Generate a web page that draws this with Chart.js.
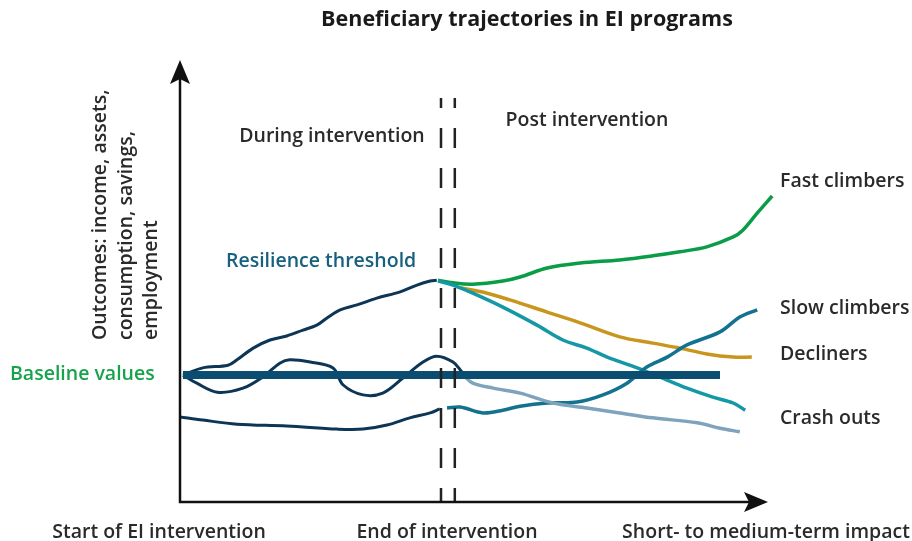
<!DOCTYPE html>
<html>
<head>
<meta charset="utf-8">
<script src="https://cdn.jsdelivr.net/npm/chart.js@4"></script>
<style>
  html, body { margin: 0; padding: 0; background: #fff; }
  #wrap { width: 912px; height: 541px; }
</style>
</head>
<body>
<div id="wrap"><canvas id="trajChart" width="912" height="541"></canvas></div>
<script>
// time runs 0..100 along x, outcome level 0..100 along y
var riseX = [0.5, 3.8, 8.0, 9.5, 12.2, 15.0, 17.8, 20.5, 22.8, 24.5, 26.7, 29.5, 32.8, 36.7, 39.5, 41.7, 42.8];
var riseY = [28.2, 29.8, 30.4, 31.6, 34.2, 36.0, 36.9, 38.2, 39.3, 40.9, 42.7, 43.8, 45.3, 46.7, 48.2, 49.1, 49.3];

var waveX = [0.5, 2.8, 6.2, 10.5, 13.8, 16.7, 18.3, 21.7, 25.5, 27.2, 30.5, 33.8, 37.2, 40.5, 42.8, 45.5, 47.0];
var waveY = [28.2, 26.4, 24.4, 25.3, 27.8, 30.9, 31.6, 31.1, 29.8, 26.0, 23.8, 24.2, 27.6, 31.1, 32.4, 31.1, 28.9];

var lowX = [0, 3.8, 9.5, 17.8, 26.2, 30.5, 34.5, 38.3, 41.7, 43.3];
var lowY = [18.9, 18.2, 17.3, 16.9, 16.2, 16.2, 17.1, 18.7, 19.8, 20.7];

var fastX = [43.0, 45.5, 48.8, 53.8, 56.7, 61.2, 66.7, 73.3, 78.8, 83.3, 87.8, 92.2, 93.8, 96.2, 98.7];
var fastY = [49.3, 48.7, 48.4, 49.1, 50.0, 52.0, 53.1, 53.8, 54.7, 55.6, 56.7, 58.9, 60.4, 64.2, 68.0];

var slowX = [44.5, 46.7, 50.5, 53.8, 56.7, 61.2, 66.2, 70.5, 74.5, 77.8, 81.2, 84.5, 90.0, 93.3, 96.2];
var slowY = [20.9, 21.1, 19.8, 20.4, 21.3, 22.0, 22.2, 23.8, 26.4, 30.0, 32.2, 34.9, 37.8, 41.1, 42.7];

var declX = [46.7, 51.2, 55.0, 61.2, 66.7, 73.3, 78.8, 83.3, 87.8, 92.2, 95.3];
var declY = [47.6, 46.4, 44.9, 42.2, 39.8, 36.7, 35.3, 34.2, 32.9, 32.2, 32.2];

var dropX = [43.0, 45.5, 48.8, 53.8, 59.5, 63.8, 67.8, 71.2, 76.2, 81.2, 84.5, 88.8, 92.2, 94.2];
var dropY = [49.1, 48.2, 46.4, 43.3, 39.3, 36.0, 34.2, 32.2, 29.8, 27.1, 25.3, 23.3, 22.0, 20.4];

var crashX = [47.2, 48.8, 52.2, 56.7, 62.2, 67.8, 73.3, 78.8, 86.2, 90.0, 93.3];
var crashY = [28.2, 26.4, 25.3, 24.2, 22.0, 20.9, 19.8, 18.7, 17.6, 16.4, 15.6];

var baselineX = [0.5, 90];
var baselineY = [28.2, 28.2];

var endMarks = [43.5, 45.8];    // the two dashed lines at end of intervention
var dashSpan = [0, 89.8];

function pts(xs, ys) {
    return xs.map(function(x, i) { return { x: x, y: ys[i] }; });
}

function curve(xs, ys, color, width) {
    return {
        data: pts(xs, ys),
        borderColor: color,
        borderWidth: width,
        tension: 0.35,
        pointRadius: 0,
        fill: false,
        order: 2
    };
}

var datasets = [
    curve(riseX, riseY, '#0d3556', 3),
    curve(waveX, waveY, '#0d3556', 3),
    curve(lowX, lowY, '#0d3556', 3),
    curve(crashX, crashY, '#7fa3bd', 3.5),
    curve(slowX, slowY, '#13728f', 3.5),
    curve(dropX, dropY, '#1598a6', 3.5),
    curve(declX, declY, '#c8961c', 3.5),
    curve(fastX, fastY, '#0b9c48', 3.5)
];

datasets.push({
    data: pts(baselineX, baselineY),
    borderColor: '#0b4d70',
    borderWidth: 8,
    pointRadius: 0,
    borderCapStyle: 'butt',
    order: 1
});

endMarks.forEach(function(x) {
    datasets.push({
        data: pts([x, x], [dashSpan[1], dashSpan[0]]),
        borderColor: '#222',
        borderWidth: 2.5,
        borderDash: [20, 20],
        borderDashOffset: 10,
        borderCapStyle: 'butt',
        pointRadius: 0,
        order: 0
    });
});

// axes arrows and all the annotation text
var decorPlugin = {
    id: 'decor',
    afterDraw: function(chart) {
        var c = chart.ctx;
        var xs = chart.scales.x, ys = chart.scales.y;
        var x0 = xs.getPixelForValue(0), y0 = ys.getPixelForValue(0);
        var xTip = xs.getPixelForValue(98), yTip = ys.getPixelForValue(98.2);

        c.save();
        c.strokeStyle = '#111';
        c.fillStyle = '#111';
        c.lineWidth = 2.5;
        c.beginPath();
        c.moveTo(x0, yTip + 15);
        c.lineTo(x0, y0);
        c.lineTo(xTip - 15, y0);
        c.stroke();
        // y arrow head
        c.beginPath();
        c.moveTo(x0, yTip);
        c.lineTo(x0 - 10, yTip + 24);
        c.lineTo(x0, yTip + 19);
        c.lineTo(x0 + 10, yTip + 24);
        c.closePath();
        c.fill();
        // x arrow head
        c.beginPath();
        c.moveTo(xTip, y0);
        c.lineTo(xTip - 24, y0 - 10);
        c.lineTo(xTip - 19, y0);
        c.lineTo(xTip - 24, y0 + 10);
        c.closePath();
        c.fill();

        var ff = '"Open Sans", sans-serif';
        c.textBaseline = 'middle';

        c.fillStyle = '#1a1a1a';
        c.font = '700 21.5px ' + ff;
        c.textAlign = 'center';
        c.fillText('Beneficiary trajectories in EI programs', 527, 20);

        c.fillStyle = '#2a2a2a';
        c.font = '600 19.5px ' + ff;
        c.fillText('During intervention', 332, 136);
        c.fillText('Post intervention', 587, 120);
        c.fillText('Start of EI intervention', 159, 532);
        c.fillText('End of intervention', 447, 532);
        c.fillText('Short- to medium-term impact', 766, 532);

        c.textAlign = 'left';
        c.fillText('Fast climbers', 780, 181);
        c.fillText('Slow climbers', 780, 308);
        c.fillText('Decliners', 780, 354);
        c.fillText('Crash outs', 780, 418);

        c.fillStyle = '#17607f';
        c.fillText('Resilience threshold', 226, 261);
        c.fillStyle = '#16a34a';
        c.fillText('Baseline values', 10, 374);

        // rotated y axis title
        c.fillStyle = '#2a2a2a';
        c.translate(0, 340);
        c.rotate(-Math.PI / 2);
        c.fillText('Outcomes: income, assets,', 0, 100);
        c.fillText('consumption, savings,', 0, 126);
        c.fillText('employment', 0, 151);
        c.restore();
    }
};

var ctx = document.getElementById('trajChart');
var trajChart = new Chart(ctx, {
    type: 'line',
    data: { datasets: datasets },
    options: {
        responsive: false,
        animation: false,
        layout: { padding: { left: 180, right: 132, top: 52, bottom: 39 } },
        plugins: {
            legend: { display: false },
            tooltip: { enabled: false }
        },
        scales: {
            x: { type: 'linear', min: 0, max: 100, display: false },
            y: { type: 'linear', min: 0, max: 100, display: false }
        }
    },
    plugins: [decorPlugin]
});
</script>
</body>
</html>
